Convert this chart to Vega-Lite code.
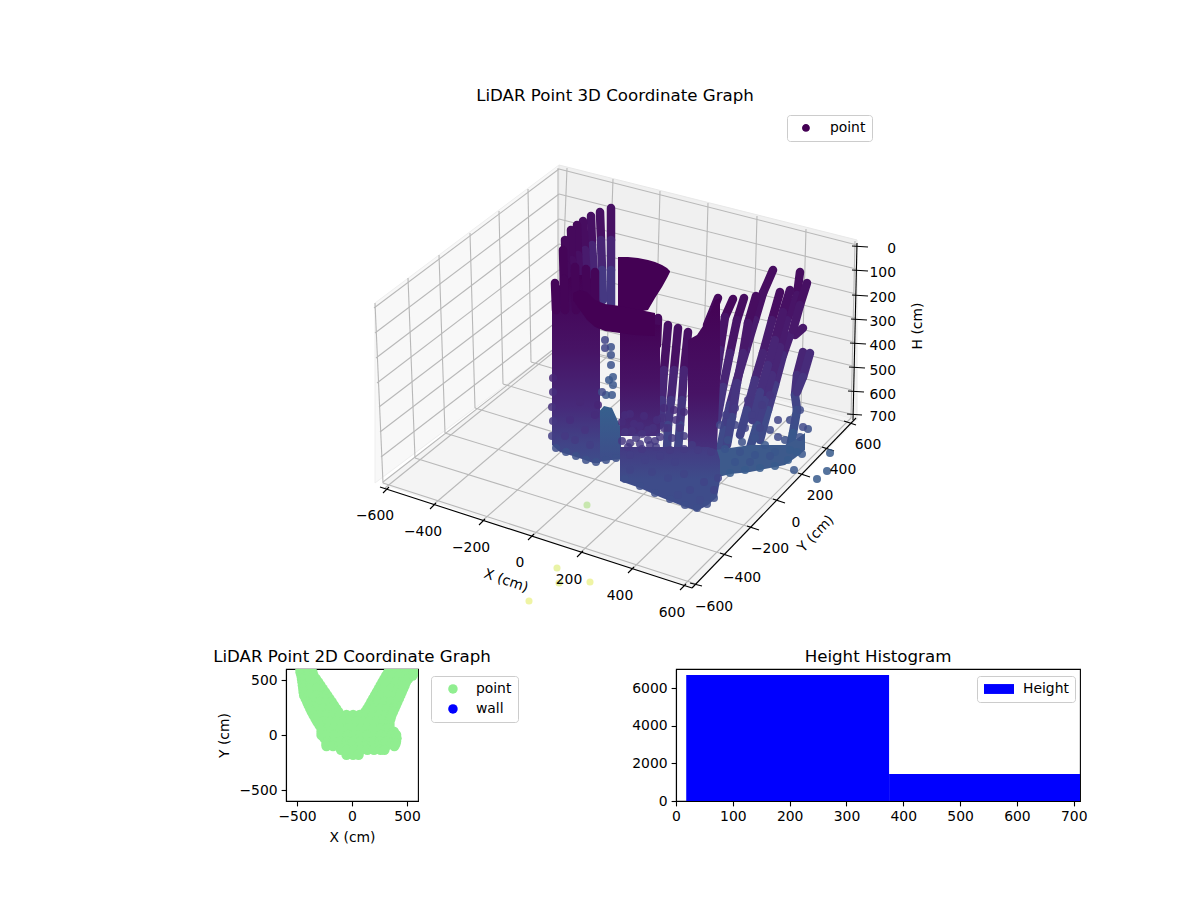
{
  "$schema": "https://vega.github.io/schema/vega-lite/v6.json",
  "description": "LiDAR point cloud: 3D view (projected plane coordinates), 2D plan view and height histogram",
  "background": "white",
  "padding": 0,
  "bounds": "flush",
  "spacing": 29,
  "config": {
    "font": "DejaVu Sans",
    "view": {"stroke": "black", "strokeWidth": 1.1},
    "title": {"fontSize": 16.67, "fontWeight": "normal", "color": "black"},
    "axis": {"grid": false, "labelFontSize": 13.9, "titleFontSize": 13.9, "titleFontWeight": "normal", "labelColor": "black", "titleColor": "black", "domainColor": "black", "tickColor": "black", "tickSize": 4.9, "tickWidth": 1.1, "domainWidth": 1.1, "labelPadding": 4, "labelFlush": false},
    "legend": {"labelFontSize": 13.9, "labelColor": "black", "strokeColor": "#cccccc", "fillColor": "white", "cornerRadius": 3, "padding": 7, "title": null}
  },
  "datasets": {
    "grid": [
      {"u":567,"v":168,"u2":560,"v2":347},{"u":613,"v":179,"u2":607,"v2":357},{"u":660,"v":191,"u2":655,"v2":369},{"u":708,"v":203,"u2":703,"v2":382},{"u":757,"v":216,"u2":752,"v2":394},{"u":806,"v":229,"u2":801,"v2":406},{"u":855,"v":241,"u2":851,"v2":418},
      {"u":559,"v":169,"u2":857,"v2":245},{"u":559,"v":194,"u2":856,"v2":269},{"u":559,"v":219,"u2":856,"v2":294},{"u":559,"v":244,"u2":855,"v2":318},{"u":559,"v":270,"u2":854,"v2":342},{"u":559,"v":295,"u2":853,"v2":366},{"u":559,"v":320,"u2":852,"v2":390},{"u":559,"v":345,"u2":851,"v2":414},
      {"u":558,"v":168,"u2":558,"v2":345},{"u":528,"v":189,"u2":531,"v2":362},{"u":499,"v":211,"u2":503,"v2":384},{"u":470,"v":233,"u2":475,"v2":408},{"u":439,"v":255,"u2":445,"v2":433},{"u":408,"v":278,"u2":415,"v2":458},{"u":375,"v":303,"u2":383,"v2":483},
      {"u":559,"v":169,"u2":374,"v2":308},{"u":559,"v":194,"u2":375,"v2":333},{"u":559,"v":219,"u2":376,"v2":358},{"u":559,"v":244,"u2":377,"v2":383},{"u":559,"v":270,"u2":379,"v2":407},{"u":559,"v":295,"u2":380,"v2":432},{"u":559,"v":320,"u2":381,"v2":457},{"u":559,"v":345,"u2":383,"v2":482},
      {"u":385,"v":488,"u2":560,"v2":347},{"u":433,"v":505,"u2":607,"v2":357},{"u":482,"v":521,"u2":655,"v2":369},{"u":531,"v":537,"u2":703,"v2":382},{"u":580,"v":553,"u2":752,"v2":394},{"u":631,"v":570,"u2":801,"v2":406},{"u":683,"v":586,"u2":851,"v2":418},
      {"u":696,"v":584,"u2":383,"v2":483},{"u":726,"v":555,"u2":415,"v2":458},{"u":753,"v":528,"u2":445,"v2":433},{"u":779,"v":501,"u2":475,"v2":408},{"u":804,"v":475,"u2":503,"v2":384},{"u":828,"v":449,"u2":531,"v2":362},{"u":850,"v":423,"u2":558,"v2":345}
    ],
    "axes3d": [
      {"u":380,"v":487,"u2":692,"v2":588},{"u":692,"v":588,"u2":856,"v2":418},{"u":857,"v":243,"u2":853,"v2":420},
      {"u":383,"v":493,"u2":389,"v2":487},{"u":430,"v":509,"u2":436,"v2":503},{"u":479,"v":525,"u2":485,"v2":519},{"u":528,"v":540,"u2":534,"v2":534},{"u":577,"v":557,"u2":583,"v2":551},{"u":628,"v":573,"u2":634,"v2":567},{"u":680,"v":590,"u2":686,"v2":584},
      {"u":690,"v":583,"u2":702,"v2":586},{"u":720,"v":553,"u2":732,"v2":557},{"u":747,"v":526,"u2":759,"v2":530},{"u":773,"v":499,"u2":785,"v2":503},{"u":798,"v":473,"u2":810,"v2":477},{"u":822,"v":447,"u2":834,"v2":451},{"u":844,"v":421,"u2":856,"v2":425},
      {"u":852,"v":246,"u2":868,"v2":247},{"u":852,"v":270,"u2":868,"v2":271},{"u":852,"v":295,"u2":868,"v2":296},{"u":851,"v":319,"u2":867,"v2":320},{"u":850,"v":343,"u2":866,"v2":344},{"u":849,"v":367,"u2":865,"v2":368},{"u":848,"v":391,"u2":864,"v2":392},{"u":847,"v":414,"u2":862,"v2":415}
    ],
    "stripes": [
      {"u":611,"v":208,"u2":611,"v2":240,"s":0.04},{"u":611,"v":240,"u2":611,"v2":270,"s":0.1},{"u":611,"v":270,"u2":611,"v2":305,"s":0.16},
      {"u":600,"v":212,"u2":601,"v2":240,"s":0.04},{"u":601,"v":240,"u2":602,"v2":270,"s":0.1},{"u":602,"v":270,"u2":603,"v2":300,"s":0.16},
      {"u":591,"v":216,"u2":592,"v2":245,"s":0.04},{"u":592,"v":245,"u2":594,"v2":275,"s":0.1},{"u":594,"v":275,"u2":596,"v2":300,"s":0.14},
      {"u":583,"v":221,"u2":585,"v2":250,"s":0.03},{"u":585,"v":250,"u2":587,"v2":280,"s":0.07},
      {"u":577,"v":225,"u2":578,"v2":255,"s":0.02},{"u":578,"v":255,"u2":580,"v2":285,"s":0.04},
      {"u":571,"v":230,"u2":572,"v2":260,"s":0.02},{"u":572,"v":260,"u2":574,"v2":285,"s":0.03},
      {"u":565,"v":240,"u2":566,"v2":265,"s":0.02},{"u":566,"v":265,"u2":568,"v2":285,"s":0.02},
      {"u":563,"v":250,"u2":564,"v2":290,"s":0.01},
      {"u":803,"v":352,"u2":797,"v2":375,"s":0.1},{"u":797,"v":375,"u2":795,"v2":395,"s":0.14},{"u":795,"v":395,"u2":797,"v2":410,"s":0.2},{"u":797,"v":410,"u2":793,"v2":433,"s":0.23},{"u":793,"v":433,"u2":790,"v2":447,"s":0.27},
      {"u":810,"v":353,"u2":803,"v2":377,"s":0.12},{"u":803,"v":377,"u2":797,"v2":392,"s":0.15},
      {"u":803,"v":328,"u2":795,"v2":335,"s":0.06},
      {"u":790,"v":335,"u2":783,"v2":355,"s":0.08},{"u":783,"v":355,"u2":775,"v2":385,"s":0.12},{"u":775,"v":385,"u2":768,"v2":410,"s":0.17},{"u":768,"v":410,"u2":760,"v2":440,"s":0.22},
      {"u":800,"v":272,"u2":797,"v2":295,"s":0.03},{"u":797,"v":295,"u2":787,"v2":320,"s":0.05},{"u":787,"v":320,"u2":780,"v2":347,"s":0.07},{"u":780,"v":347,"u2":772,"v2":375,"s":0.1},{"u":772,"v":375,"u2":765,"v2":400,"s":0.13},{"u":765,"v":400,"u2":757,"v2":425,"s":0.18},{"u":757,"v":425,"u2":750,"v2":448,"s":0.23},
      {"u":807,"v":283,"u2":800,"v2":305,"s":0.04},{"u":800,"v":305,"u2":793,"v2":330,"s":0.06},
      {"u":790,"v":290,"u2":783,"v2":312,"s":0.04},{"u":783,"v":312,"u2":775,"v2":340,"s":0.06},{"u":775,"v":340,"u2":768,"v2":365,"s":0.1},{"u":768,"v":365,"u2":760,"v2":392,"s":0.13},{"u":760,"v":392,"u2":752,"v2":420,"s":0.18},
      {"u":780,"v":292,"u2":772,"v2":320,"s":0.03},{"u":772,"v":320,"u2":763,"v2":353,"s":0.07},{"u":763,"v":353,"u2":755,"v2":380,"s":0.1},{"u":755,"v":380,"u2":747,"v2":410,"s":0.15},{"u":747,"v":410,"u2":740,"v2":435,"s":0.2},
      {"u":773,"v":270,"u2":763,"v2":293,"s":0.03},{"u":763,"v":293,"u2":755,"v2":320,"s":0.04},{"u":755,"v":320,"u2":746,"v2":350,"s":0.07},{"u":746,"v":350,"u2":737,"v2":380,"s":0.1},{"u":737,"v":380,"u2":730,"v2":405,"s":0.14},{"u":730,"v":405,"u2":724,"v2":430,"s":0.18},{"u":724,"v":430,"u2":720,"v2":450,"s":0.22},
      {"u":756,"v":296,"u2":748,"v2":323,"s":0.03},{"u":748,"v":323,"u2":743,"v2":353,"s":0.06},{"u":743,"v":353,"u2":737,"v2":383,"s":0.1},{"u":737,"v":383,"u2":732,"v2":417,"s":0.15},{"u":732,"v":417,"u2":727,"v2":445,"s":0.2},
      {"u":744,"v":298,"u2":737,"v2":320,"s":0.03},{"u":737,"v":320,"u2":730,"v2":353,"s":0.05},{"u":730,"v":353,"u2":723,"v2":387,"s":0.1},{"u":723,"v":387,"u2":717,"v2":420,"s":0.15},
      {"u":733,"v":299,"u2":725,"v2":317,"s":0.02},{"u":725,"v":317,"u2":720,"v2":350,"s":0.05},{"u":720,"v":350,"u2":715,"v2":387,"s":0.09},
      {"u":718,"v":298,"u2":707,"v2":325,"s":0.02},
      {"u":688,"v":332,"u2":684,"v2":370,"s":0.04},{"u":684,"v":370,"u2":682,"v2":400,"s":0.1},{"u":682,"v":400,"u2":680,"v2":425,"s":0.15},{"u":680,"v":425,"u2":678,"v2":450,"s":0.2},
      {"u":678,"v":328,"u2":674,"v2":370,"s":0.04},{"u":674,"v":370,"u2":671,"v2":400,"s":0.1},{"u":671,"v":400,"u2":668,"v2":425,"s":0.15},{"u":668,"v":425,"u2":667,"v2":450,"s":0.2},
      {"u":668,"v":325,"u2":664,"v2":370,"s":0.04},{"u":664,"v":370,"u2":662,"v2":400,"s":0.1},{"u":662,"v":400,"u2":660,"v2":425,"s":0.15},
      {"u":658,"v":318,"u2":657,"v2":345,"s":0.02}
    ],
    "fingers": [
      {"u":555,"v":283,"u2":556,"v2":310,"s":0.01},{"u":564,"v":279,"u2":565,"v2":310,"s":0.01},{"u":575,"v":267,"u2":576,"v2":310,"s":0.01},{"u":586,"v":269,"u2":587,"v2":310,"s":0.01},{"u":595,"v":272,"u2":595,"v2":312,"s":0.01}
    ],
    "points": [
      {"u":808,"v":429,"s":0.24,"series":"point"},{"u":803,"v":427,"s":0.22,"series":"point"},{"u":800,"v":437,"s":0.24,"series":"point"},{"u":830,"v":453,"s":0.28,"series":"point"},{"u":827,"v":471,"s":0.28,"series":"point"},{"u":817,"v":479,"s":0.28,"series":"point"},{"u":802,"v":454,"s":0.27,"series":"point"},{"u":794,"v":470,"s":0.27,"series":"point"},
      {"u":785,"v":440,"s":0.24,"series":"point"},{"u":778,"v":437,"s":0.22,"series":"point"},{"u":770,"v":430,"s":0.22,"series":"point"},{"u":760,"v":428,"s":0.2,"series":"point"},{"u":752,"v":415,"s":0.18,"series":"point"},{"u":745,"v":428,"s":0.2,"series":"point"},{"u":735,"v":425,"s":0.2,"series":"point"},{"u":728,"v":440,"s":0.24,"series":"point"},{"u":742,"v":442,"s":0.24,"series":"point"},{"u":755,"v":438,"s":0.24,"series":"point"},{"u":765,"v":445,"s":0.27,"series":"point"},{"u":775,"v":452,"s":0.27,"series":"point"},{"u":790,"v":450,"s":0.28,"series":"point"},{"u":720,"v":425,"s":0.2,"series":"point"},{"u":726,"v":415,"s":0.18,"series":"point"},{"u":735,"v":408,"s":0.16,"series":"point"},{"u":748,"v":400,"s":0.15,"series":"point"},{"u":762,"v":405,"s":0.17,"series":"point"},{"u":770,"v":395,"s":0.15,"series":"point"},{"u":778,"v":420,"s":0.2,"series":"point"},{"u":790,"v":420,"s":0.22,"series":"point"},{"u":800,"v":410,"s":0.22,"series":"point"},
      {"u":730,"v":473,"s":0.28,"series":"point"},{"u":745,"v":470,"s":0.28,"series":"point"},{"u":760,"v":468,"s":0.28,"series":"point"},{"u":775,"v":466,"s":0.28,"series":"point"},{"u":788,"v":460,"s":0.28,"series":"point"},{"u":797,"v":452,"s":0.28,"series":"point"},{"u":725,"v":449,"s":0.26,"series":"point"},{"u":740,"v":452,"s":0.25,"series":"point"},{"u":755,"v":455,"s":0.26,"series":"point"},{"u":770,"v":456,"s":0.25,"series":"point"},{"u":735,"v":462,"s":0.26,"series":"point"},{"u":750,"v":462,"s":0.25,"series":"point"},
      {"u":605,"v":340,"s":0.2,"series":"point"},{"u":611,"v":347,"s":0.24,"series":"point"},{"u":605,"v":348,"s":0.2,"series":"point"},{"u":611,"v":355,"s":0.24,"series":"point"},{"u":611,"v":365,"s":0.25,"series":"point"},{"u":609,"v":380,"s":0.27,"series":"point"},{"u":613,"v":377,"s":0.27,"series":"point"},{"u":613,"v":385,"s":0.27,"series":"point"},{"u":606,"v":395,"s":0.27,"series":"point"},{"u":612,"v":395,"s":0.27,"series":"point"},
      {"u":625,"v":415,"s":0.12,"series":"point"},{"u":634,"v":424,"s":0.13,"series":"point"},{"u":644,"v":416,"s":0.12,"series":"point"},{"u":653,"v":428,"s":0.14,"series":"point"},{"u":625,"v":432,"s":0.15,"series":"point"},{"u":636,"v":438,"s":0.16,"series":"point"},{"u":648,"v":440,"s":0.16,"series":"point"},{"u":660,"v":437,"s":0.16,"series":"point"},{"u":672,"v":438,"s":0.17,"series":"point"},{"u":684,"v":436,"s":0.17,"series":"point"},{"u":692,"v":445,"s":0.17,"series":"point"},{"u":662,"v":418,"s":0.14,"series":"point"},{"u":676,"v":420,"s":0.14,"series":"point"},{"u":664,"v":408,"s":0.12,"series":"point"},{"u":674,"v":410,"s":0.12,"series":"point"},{"u":684,"v":412,"s":0.12,"series":"point"},{"u":668,"v":428,"s":0.15,"series":"point"},{"u":680,"v":428,"s":0.15,"series":"point"},
      {"u":622,"v":422,"s":0.12,"series":"point"},{"u":630,"v":414,"s":0.12,"series":"point"},{"u":640,"v":426,"s":0.13,"series":"point"},{"u":648,"v":430,"s":0.14,"series":"point"},{"u":657,"v":420,"s":0.13,"series":"point"},{"u":622,"v":441,"s":0.16,"series":"point"},{"u":632,"v":431,"s":0.14,"series":"point"},{"u":642,"v":434,"s":0.15,"series":"point"},{"u":655,"v":441,"s":0.16,"series":"point"},{"u":664,"v":428,"s":0.15,"series":"point"},{"u":630,"v":443,"s":0.16,"series":"point"},{"u":640,"v":444,"s":0.16,"series":"point"},{"u":650,"v":445,"s":0.16,"series":"point"},
      {"u":553,"v":378,"s":0.1,"series":"point"},{"u":553,"v":392,"s":0.13,"series":"point"},{"u":552,"v":407,"s":0.14,"series":"point"},{"u":553,"v":421,"s":0.16,"series":"point"},{"u":552,"v":436,"s":0.18,"series":"point"},{"u":570,"v":420,"s":0.13,"series":"point"},{"u":585,"v":430,"s":0.15,"series":"point"},{"u":565,"v":436,"s":0.16,"series":"point"},{"u":595,"v":415,"s":0.12,"series":"point"},{"u":580,"v":402,"s":0.11,"series":"point"},{"u":598,"v":405,"s":0.1,"series":"point"},{"u":602,"v":392,"s":0.22,"series":"point"},{"u":575,"v":440,"s":0.17,"series":"point"},{"u":590,"v":445,"s":0.18,"series":"point"},
      {"u":556,"v":448,"s":0.23,"series":"point"},{"u":566,"v":452,"s":0.24,"series":"point"},{"u":576,"v":456,"s":0.24,"series":"point"},{"u":586,"v":460,"s":0.24,"series":"point"},{"u":596,"v":462,"s":0.24,"series":"point"},{"u":606,"v":460,"s":0.24,"series":"point"},{"u":616,"v":458,"s":0.24,"series":"point"},
      {"u":630,"v":455,"s":0.18,"series":"point"},{"u":645,"v":460,"s":0.19,"series":"point"},{"u":660,"v":456,"s":0.18,"series":"point"},{"u":675,"v":462,"s":0.19,"series":"point"},{"u":652,"v":472,"s":0.2,"series":"point"},{"u":668,"v":478,"s":0.21,"series":"point"},{"u":684,"v":474,"s":0.2,"series":"point"},{"u":630,"v":470,"s":0.2,"series":"point"},{"u":690,"v":490,"s":0.21,"series":"point"},{"u":704,"v":482,"s":0.2,"series":"point"},{"u":714,"v":490,"s":0.2,"series":"point"},{"u":718,"v":478,"s":0.2,"series":"point"},{"u":678,"v":495,"s":0.22,"series":"point"},{"u":700,"v":500,"s":0.22,"series":"point"},
      {"u":628,"v":447,"s":0.16,"series":"point"},{"u":642,"v":449,"s":0.16,"series":"point"},{"u":656,"v":447,"s":0.17,"series":"point"},{"u":670,"v":450,"s":0.17,"series":"point"},{"u":684,"v":449,"s":0.17,"series":"point"},{"u":698,"v":450,"s":0.17,"series":"point"},{"u":711,"v":452,"s":0.17,"series":"point"},
      {"u":625,"v":479,"s":0.23,"series":"point"},{"u":640,"v":486,"s":0.23,"series":"point"},{"u":655,"v":493,"s":0.23,"series":"point"},{"u":670,"v":499,"s":0.23,"series":"point"},{"u":685,"v":505,"s":0.23,"series":"point"},{"u":697,"v":508,"s":0.23,"series":"point"},{"u":707,"v":504,"s":0.23,"series":"point"},{"u":714,"v":498,"s":0.23,"series":"point"}
    ],
    "outliers": [
      {"u":587,"v":505,"s":0.82},{"u":557,"v":568,"s":0.92},{"u":559,"v":583,"s":0.92},{"u":590,"v":582,"s":0.94},{"u":529,"v":601,"s":0.94}
    ],
    "ticks3d": [
      {"u":375,"v":516,"label":"−600"},{"u":423,"v":532,"label":"−400"},{"u":471,"v":548,"label":"−200"},{"u":520,"v":563,"label":"0"},{"u":569,"v":580,"label":"200"},{"u":620,"v":596,"label":"400"},{"u":672,"v":613,"label":"600"},
      {"u":714,"v":607,"label":"−600"},{"u":742,"v":578,"label":"−400"},{"u":770,"v":549,"label":"−200"},{"u":796,"v":523,"label":"0"},{"u":820,"v":496,"label":"200"},{"u":843,"v":470,"label":"400"},{"u":868,"v":445,"label":"600"}
    ],
    "ticksH": [
      {"u":896,"v":249,"label":"0"},{"u":896,"v":273,"label":"100"},{"u":896,"v":298,"label":"200"},{"u":896,"v":322,"label":"300"},{"u":896,"v":346,"label":"400"},{"u":896,"v":371,"label":"500"},{"u":896,"v":395,"label":"600"},{"u":896,"v":417,"label":"700"}
    ],
    "plan": [
      {"x":-470,"y":600},{"x":-420,"y":600},{"x":-385,"y":600},{"x":340,"y":600},{"x":400,"y":600},{"x":460,"y":600},{"x":520,"y":600},{"x":580,"y":600},{"x":620,"y":600},
      {"x":-468,"y":570},{"x":-360,"y":570},{"x":330,"y":570},{"x":570,"y":570},
      {"x":-460,"y":540},{"x":-400,"y":540},{"x":-350,"y":540},{"x":311,"y":540},{"x":370,"y":540},{"x":430,"y":540},{"x":490,"y":540},{"x":550,"y":540},
      {"x":-455,"y":510},{"x":-328,"y":510},{"x":294,"y":510},{"x":510,"y":510},
      {"x":-450,"y":480},{"x":-390,"y":480},{"x":-330,"y":480},{"x":-307,"y":480},{"x":277,"y":480},{"x":340,"y":480},{"x":400,"y":480},{"x":460,"y":480},{"x":490,"y":480},
      {"x":-447,"y":450},{"x":-287,"y":450},{"x":260,"y":450},{"x":478,"y":450},
      {"x":-443,"y":420},{"x":-380,"y":420},{"x":-320,"y":420},{"x":-266,"y":420},{"x":243,"y":420},{"x":300,"y":420},{"x":360,"y":420},{"x":420,"y":420},{"x":465,"y":420},
      {"x":-440,"y":390},{"x":-245,"y":390},{"x":226,"y":390},{"x":452,"y":390},
      {"x":-435,"y":360},{"x":-375,"y":360},{"x":-315,"y":360},{"x":-255,"y":360},{"x":-225,"y":360},{"x":209,"y":360},{"x":270,"y":360},{"x":330,"y":360},{"x":390,"y":360},{"x":439,"y":360},
      {"x":-421,"y":330},{"x":-205,"y":330},{"x":192,"y":330},{"x":426,"y":330},
      {"x":-407,"y":300},{"x":-350,"y":300},{"x":-290,"y":300},{"x":-230,"y":300},{"x":-184,"y":300},{"x":175,"y":300},{"x":235,"y":300},{"x":295,"y":300},{"x":355,"y":300},{"x":412,"y":300},
      {"x":-394,"y":270},{"x":-164,"y":270},{"x":158,"y":270},{"x":399,"y":270},
      {"x":-380,"y":240},{"x":-320,"y":240},{"x":-260,"y":240},{"x":-200,"y":240},{"x":-144,"y":240},{"x":140,"y":240},{"x":200,"y":240},{"x":260,"y":240},{"x":320,"y":240},{"x":386,"y":240},
      {"x":-365,"y":210},{"x":-124,"y":210},{"x":120,"y":210},{"x":372,"y":210},
      {"x":-350,"y":182},{"x":-290,"y":182},{"x":-230,"y":182},{"x":-170,"y":182},{"x":-110,"y":182},{"x":-50,"y":182},{"x":10,"y":182},{"x":70,"y":182},{"x":130,"y":182},{"x":190,"y":182},{"x":250,"y":182},{"x":310,"y":182},{"x":359,"y":182},
      {"x":-332,"y":150},{"x":350,"y":150},
      {"x":-315,"y":120},{"x":-255,"y":120},{"x":-195,"y":120},{"x":-135,"y":120},{"x":-75,"y":120},{"x":-15,"y":120},{"x":45,"y":120},{"x":105,"y":120},{"x":165,"y":120},{"x":225,"y":120},{"x":285,"y":120},{"x":341,"y":120},
      {"x":-296,"y":90},{"x":341,"y":90},
      {"x":-277,"y":60},{"x":-217,"y":60},{"x":-157,"y":60},{"x":-97,"y":60},{"x":-37,"y":60},{"x":23,"y":60},{"x":83,"y":60},{"x":143,"y":60},{"x":203,"y":60},{"x":263,"y":60},{"x":320,"y":60},{"x":341,"y":60},
      {"x":-277,"y":30},{"x":380,"y":30},
      {"x":-277,"y":0},{"x":-217,"y":0},{"x":-157,"y":0},{"x":-97,"y":0},{"x":-37,"y":0},{"x":23,"y":0},{"x":83,"y":0},{"x":143,"y":0},{"x":203,"y":0},{"x":263,"y":0},{"x":323,"y":0},{"x":363,"y":0},{"x":401,"y":0},
      {"x":-250,"y":-30},{"x":405,"y":-30},
      {"x":-225,"y":-60},{"x":-165,"y":-60},{"x":-105,"y":-60},{"x":-45,"y":-60},{"x":15,"y":-60},{"x":75,"y":-60},{"x":135,"y":-60},{"x":195,"y":-60},{"x":255,"y":-60},{"x":315,"y":-60},{"x":375,"y":-60},{"x":400,"y":-60},
      {"x":-232,"y":-80},{"x":395,"y":-80},
      {"x":-232,"y":-100},{"x":-172,"y":-100},{"x":-112,"y":-100},{"x":-52,"y":-100},{"x":8,"y":-100},{"x":68,"y":-100},{"x":128,"y":-100},{"x":188,"y":-100},{"x":248,"y":-100},{"x":308,"y":-100},{"x":385,"y":-100},
      {"x":-100,"y":-135},{"x":-40,"y":-135},{"x":20,"y":-135},{"x":80,"y":-135},{"x":140,"y":-135},{"x":200,"y":-135},{"x":260,"y":-135},{"x":295,"y":-135},
      {"x":-50,"y":-180},{"x":10,"y":-180},{"x":60,"y":-180}
    ],
    "hist": [
      {"lo":18,"hi":375,"count":6690,"base":0,"series":"Height"},
      {"lo":375,"hi":711,"count":1430,"base":0,"series":"Height"}
    ]
  },
  "vconcat": [
    {
      "width": 1200,
      "height": 640,
      "view": {"stroke": null},
      "title": {"text": "LiDAR Point 3D Coordinate Graph", "offset": -105, "dx": 15},
      "encoding": {
        "x": {"field": "u", "type": "quantitative", "scale": {"domain": [0, 1200]}, "axis": null},
        "y": {"field": "v", "type": "quantitative", "scale": {"domain": [640, 0]}, "axis": null}
      },
      "layer": [
        {
          "data": {"values": [{"u":375,"v":303,"v2":483},{"u":559,"v":165,"v2":345}]},
          "mark": {"type": "area", "color": "#f8f8f8", "stroke": "#eeeeee", "strokeWidth": 1},
          "encoding": {"y2": {"field": "v2"}}
        },
        {
          "data": {"values": [{"u":559,"v":165,"v2":345},{"u":857,"v":240,"v2":420}]},
          "mark": {"type": "area", "color": "#f0f0f0", "stroke": "#e8e8e8", "strokeWidth": 1},
          "encoding": {"y2": {"field": "v2"}}
        },
        {
          "data": {"values": [{"u":381,"v":484,"v2":484},{"u":559,"v":345,"v2":545},{"u":692,"v":378,"v2":588},{"u":857,"v":420,"v2":420}]},
          "mark": {"type": "area", "color": "#f4f4f4"},
          "encoding": {"y2": {"field": "v2"}}
        },
        {
          "data": {"name": "grid"},
          "mark": {"type": "rule", "color": "#b8b8b8", "strokeWidth": 1.1},
          "encoding": {"x2": {"field": "u2"}, "y2": {"field": "v2"}}
        },
        {
          "data": {"name": "axes3d"},
          "mark": {"type": "rule", "color": "black", "strokeWidth": 1.1},
          "encoding": {"x2": {"field": "u2"}, "y2": {"field": "v2"}}
        },
        {
          "data": {"name": "outliers"},
          "mark": {"type": "point", "shape": "circle", "filled": true, "size": 50, "opacity": 0.4},
          "encoding": {"color": {"field": "s", "type": "quantitative", "scale": {"scheme": "viridis", "domain": [0, 1]}, "legend": null}}
        },
        {
          "data": {"name": "stripes"},
          "mark": {"type": "rule", "strokeWidth": 8.5, "strokeCap": "round"},
          "encoding": {
            "x2": {"field": "u2"},
            "y2": {"field": "v2"},
            "color": {"field": "s", "type": "quantitative", "scale": {"scheme": "viridis", "domain": [0, 1]}, "legend": null}
          }
        },
        {
          "data": {"values": [{"u":715,"v":450,"v2":478},{"u":730,"v":448,"v2":474},{"u":750,"v":445,"v2":472},{"u":770,"v":445,"v2":468},{"u":785,"v":445,"v2":465},{"u":795,"v":440,"v2":458},{"u":805,"v":433,"v2":450}]},
          "mark": {"type": "area", "color": "#3d5a8c"},
          "encoding": {"y2": {"field": "v2"}}
        },
        {
          "data": {"values": [{"u":596,"v":415,"v2":463},{"u":604,"v":406,"v2":461},{"u":612,"v":408,"v2":460},{"u":621,"v":428,"v2":459}]},
          "mark": {"type": "area", "color": {"gradient": "linear", "x1": 0, "x2": 0, "y1": 0, "y2": 1, "stops": [{"offset": 0, "color": "#36608d"}, {"offset": 1, "color": "#3e4c8a"}]}},
          "encoding": {"y2": {"field": "v2"}}
        },
        {
          "data": {"values": [{"u":552,"v":290,"v2":445},{"u":560,"v":285,"v2":452},{"u":573,"v":275,"v2":456},{"u":585,"v":275,"v2":460},{"u":593,"v":280,"v2":463},{"u":600,"v":303,"v2":463}]},
          "mark": {"type": "area", "color": {"gradient": "linear", "x1": 0, "x2": 0, "y1": 0, "y2": 1, "stops": [{"offset": 0, "color": "#440154"}, {"offset": 0.4, "color": "#471365"}, {"offset": 0.7, "color": "#472a7a"}, {"offset": 0.9, "color": "#414487"}, {"offset": 1, "color": "#3e4c8a"}]}},
          "encoding": {"y2": {"field": "v2"}}
        },
        {
          "data": {"name": "fingers"},
          "mark": {"type": "rule", "strokeWidth": 8.5, "strokeCap": "round"},
          "encoding": {
            "x2": {"field": "u2"},
            "y2": {"field": "v2"},
            "color": {"field": "s", "type": "quantitative", "scale": {"scheme": "viridis", "domain": [0, 1]}, "legend": null}
          }
        },
        {
          "data": {"values": [{"u":618,"v":257,"v2":312},{"u":628,"v":257,"v2":312},{"u":638,"v":258,"v2":312},{"u":648,"v":260,"v2":310},{"u":655,"v":262,"v2":298},{"u":662,"v":265,"v2":287},{"u":667,"v":268,"v2":278},{"u":670,"v":271,"v2":272}]},
          "mark": {"type": "area", "color": "#440154"},
          "encoding": {"y2": {"field": "v2"}}
        },
        {
          "data": {"values": [{"u":620,"v":320,"v2":436},{"u":660,"v":325,"v2":436}]},
          "mark": {"type": "area", "color": {"gradient": "linear", "x1": 0, "x2": 0, "y1": 0, "y2": 1, "stops": [{"offset": 0, "color": "#440154"}, {"offset": 0.55, "color": "#471365"}, {"offset": 1, "color": "#462f7c"}]}},
          "encoding": {"y2": {"field": "v2"}}
        },
        {
          "data": {"values": [{"u":573,"v":293,"v2":300},{"u":580,"v":290,"v2":310},{"u":587,"v":292,"v2":320},{"u":595,"v":300,"v2":327},{"u":605,"v":304,"v2":331},{"u":620,"v":306,"v2":333},{"u":635,"v":309,"v2":335},{"u":655,"v":313,"v2":336}]},
          "mark": {"type": "area", "color": "#440154"},
          "encoding": {"y2": {"field": "v2"}}
        },
        {
          "data": {"values": [{"u":688,"v":340,"v2":475},{"u":697,"v":335,"v2":490},{"u":707,"v":320,"v2":490},{"u":715,"v":300,"v2":490},{"u":720,"v":298,"v2":380}]},
          "mark": {"type": "area", "color": {"gradient": "linear", "x1": 0, "x2": 0, "y1": 0, "y2": 1, "stops": [{"offset": 0, "color": "#440154"}, {"offset": 0.5, "color": "#471365"}, {"offset": 0.8, "color": "#46327e"}, {"offset": 1, "color": "#3e4c8a"}]}},
          "encoding": {"y2": {"field": "v2"}}
        },
        {
          "data": {"values": [{"u":620,"v":447,"v2":481},{"u":640,"v":447,"v2":488},{"u":660,"v":447,"v2":497},{"u":680,"v":447,"v2":505},{"u":697,"v":447,"v2":511},{"u":708,"v":447,"v2":505},{"u":717,"v":450,"v2":497},{"u":720,"v":460,"v2":480}]},
          "mark": {"type": "area", "color": {"gradient": "linear", "x1": 0, "x2": 0, "y1": 0, "y2": 1, "stops": [{"offset": 0, "color": "#443a83"}, {"offset": 0.5, "color": "#3e4c8a"}, {"offset": 1, "color": "#3e4c8a"}]}},
          "encoding": {"y2": {"field": "v2"}}
        },
        {
          "data": {"name": "points"},
          "mark": {"type": "point", "filled": true, "size": 64, "opacity": 0.85},
          "encoding": {
            "color": {"field": "s", "type": "quantitative", "scale": {"scheme": "viridis", "domain": [0, 1]}, "legend": null},
            "shape": {
              "field": "series",
              "type": "nominal",
              "scale": {"range": ["circle"]},
              "legend": {"orient": "none", "legendX": 787, "legendY": 115, "symbolFillColor": "#440154", "symbolStrokeColor": "#440154", "symbolOpacity": 1, "symbolSize": 40, "symbolOffset": 6, "labelOffset": 17, "padding": 6}
            }
          }
        },
        {
          "data": {"name": "ticks3d"},
          "mark": {"type": "text", "fontSize": 13.9, "align": "center", "baseline": "middle", "color": "black"},
          "encoding": {"text": {"field": "label"}}
        },
        {
          "data": {"name": "ticksH"},
          "mark": {"type": "text", "fontSize": 13.9, "align": "right", "baseline": "middle", "color": "black"},
          "encoding": {"text": {"field": "label"}}
        },
        {
          "data": {"values": [{"u":506,"v":581,"label":"X (cm)"}]},
          "mark": {"type": "text", "fontSize": 13.9, "angle": 19, "align": "center", "baseline": "middle", "color": "black"},
          "encoding": {"text": {"field": "label"}}
        },
        {
          "data": {"values": [{"u":816,"v":534,"label":"Y (cm)"}]},
          "mark": {"type": "text", "fontSize": 13.9, "angle": -46, "align": "center", "baseline": "middle", "color": "black"},
          "encoding": {"text": {"field": "label"}}
        },
        {
          "data": {"values": [{"u":918,"v":326,"label":"H (cm)"}]},
          "mark": {"type": "text", "fontSize": 13.9, "angle": -90, "align": "center", "baseline": "middle", "color": "black"},
          "encoding": {"text": {"field": "label"}}
        }
      ]
    },
    {
      "bounds": "flush",
      "spacing": 258,
      "resolve": {"scale": {"color": "independent"}, "legend": {"color": "independent"}},
      "hconcat": [
        {
          "width": 28,
          "height": 132,
          "view": {"stroke": null},
          "data": {"values": [{"u": 0}]},
          "mark": {"type": "point", "opacity": 0},
          "encoding": {"x": {"field": "u", "type": "quantitative", "axis": null}}
        },
        {
          "width": 132,
          "height": 132,
          "title": {"text": "LiDAR Point 2D Coordinate Graph", "offset": 3},
          "data": {"name": "plan"},
          "mark": {"type": "point", "shape": "circle", "filled": true, "size": 108, "opacity": 1, "clip": true},
          "encoding": {
            "x": {"field": "x", "type": "quantitative", "title": "X (cm)", "scale": {"domain": [-600, 600], "nice": false}, "axis": {"values": [-500, 0, 500], "titlePadding": 7}},
            "y": {"field": "y", "type": "quantitative", "title": "Y (cm)", "scale": {"domain": [-600, 600], "nice": false}, "axis": {"values": [-500, 0, 500], "titlePadding": 7}},
            "color": {
              "datum": "point",
              "type": "nominal",
              "scale": {"domain": ["point", "wall"], "range": ["#90ee90", "#0000ff"]},
              "legend": {"orient": "none", "legendX": 145, "legendY": 7, "symbolSize": 90, "symbolOffset": 9, "labelOffset": 16, "rowPadding": 5, "padding": 6, "symbolType": "circle"}
            }
          }
        },
        {
          "width": 404,
          "height": 132,
          "title": {"text": "Height Histogram", "offset": 3},
          "data": {"name": "hist"},
          "mark": {"type": "rect"},
          "encoding": {
            "x": {"field": "lo", "type": "quantitative", "title": null, "scale": {"domain": [0, 711], "nice": false}, "axis": {"values": [0, 100, 200, 300, 400, 500, 600, 700]}},
            "x2": {"field": "hi"},
            "y": {"field": "count", "type": "quantitative", "title": null, "scale": {"domain": [0, 7010], "nice": false}, "axis": {"values": [0, 2000, 4000, 6000], "format": "d"}},
            "y2": {"field": "base"},
            "color": {
              "field": "series",
              "type": "nominal",
              "scale": {"domain": ["Height"], "range": ["#0000ff"]},
              "legend": {"orient": "none", "legendX": 301, "legendY": 7, "symbolType": "M-1,-0.33H1V0.33H-1Z", "symbolSize": 900, "clipHeight": 14, "labelOffset": 8, "padding": 6}
            }
          }
        }
      ]
    }
  ]
}
